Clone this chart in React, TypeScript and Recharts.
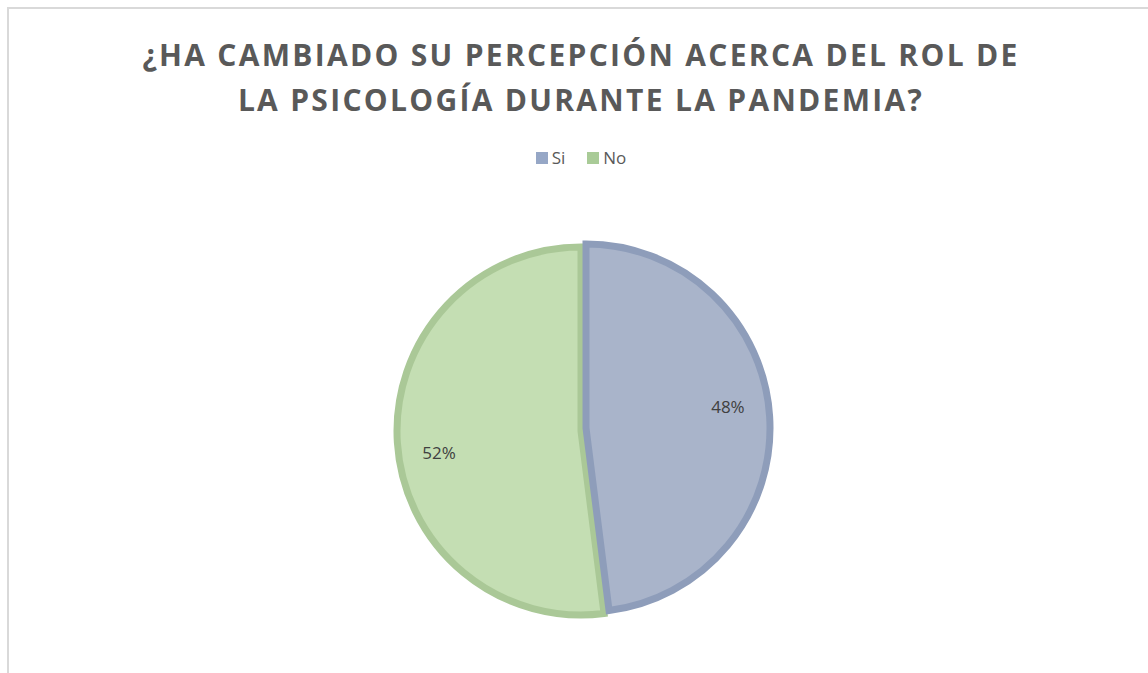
import React from 'react';
import { PieChart, Pie, Cell, Legend } from 'recharts';

const categories = ['Si', 'No'];
const shares = [48, 52];
const fills = ['#A9B4CA', '#C4DEB3'];
const strokes = ['#8E9DBA', '#AAC897'];
const legendColors = ['#96A7C6', '#A9CB97'];
const titleLines = ['¿HA CAMBIADO SU PERCEPCIÓN ACERCA DEL ROL DE', 'LA PSICOLOGÍA DURANTE LA PANDEMIA?'];

const data = categories.map((name, i) => ({ name, value: shares[i] }));

const RAD = Math.PI / 180;

// label drawn only for the slice the pie shows
const makeLabel = (only: number) => (props: any) => {
  const { cx, cy, midAngle, outerRadius, percent, index } = props;
  if (index !== only) return null;
  const r = outerRadius * 0.78;
  const a = (midAngle + 5) * RAD;
  const x = cx + r * Math.cos(a);
  const y = cy - r * Math.sin(a);
  return (
    <text
      x={x}
      y={y}
      textAnchor="middle"
      dominantBaseline="central"
      fill="#404040"
      fontSize={17}
      fontFamily="'Open Sans', sans-serif"
    >
      {`${Math.round(percent * 100)}%`}
    </text>
  );
};

const LegendBox = () => (
  <div
    style={{
      display: 'flex',
      justifyContent: 'center',
      gap: 22,
      fontFamily: "'Open Sans', sans-serif",
      fontSize: 17,
      color: '#595959',
    }}
  >
    {categories.map((c, i) => (
      <span key={c} style={{ display: 'flex', alignItems: 'center', gap: 4 }}>
        <span style={{ width: 12, height: 12, background: legendColors[i], display: 'inline-block' }} />
        {c}
      </span>
    ))}
  </div>
);

export default function App() {
  return (
    <div
      style={{
        position: 'absolute',
        left: 7,
        top: 7,
        width: 1141,
        height: 666,
        borderLeft: '2px solid #d9d9d9',
        borderTop: '2px solid #d9d9d9',
        boxSizing: 'border-box',
        background: '#fff',
        overflow: 'hidden',
      }}
    >
      {/* Title */}
      <div
        style={{
          position: 'absolute',
          left: 0,
          top: 23,
          width: 1144,
          textAlign: 'center',
          fontFamily: "'Open Sans', sans-serif",
          fontWeight: 700,
          fontSize: 30,
          letterSpacing: 2.3,
          lineHeight: '45px',
          color: '#595959',
        }}
      >
        {titleLines.map((t) => (
          <div key={t}>{t}</div>
        ))}
      </div>
      <PieChart width={1139} height={664}>
        <Legend
          verticalAlign="top"
          content={<LegendBox />}
          wrapperStyle={{ top: 137, left: 0, width: 1144 }}
        />
        {/* No slice */}
        <Pie
          data={data}
          dataKey="value"
          nameKey="name"
          cx={567}
          cy={394}
          outerRadius={184}
          startAngle={90}
          endAngle={-270}
          label={makeLabel(1)}
          labelLine={false}
          isAnimationActive={false}
          strokeWidth={7}
        >
          {data.map((d, i) => (
            <Cell
              key={d.name}
              fill={i === 1 ? fills[i] : 'none'}
              stroke={i === 1 ? strokes[i] : 'none'}
            />
          ))}
        </Pie>
        {/* Si slice, pulled out a little */}
        <Pie
          data={data}
          dataKey="value"
          nameKey="name"
          cx={572}
          cy={391}
          outerRadius={184}
          startAngle={90}
          endAngle={-270}
          label={makeLabel(0)}
          labelLine={false}
          isAnimationActive={false}
          strokeWidth={7}
        >
          {data.map((d, i) => (
            <Cell
              key={d.name}
              fill={i === 0 ? fills[i] : 'none'}
              stroke={i === 0 ? strokes[i] : 'none'}
            />
          ))}
        </Pie>
      </PieChart>
    </div>
  );
}
